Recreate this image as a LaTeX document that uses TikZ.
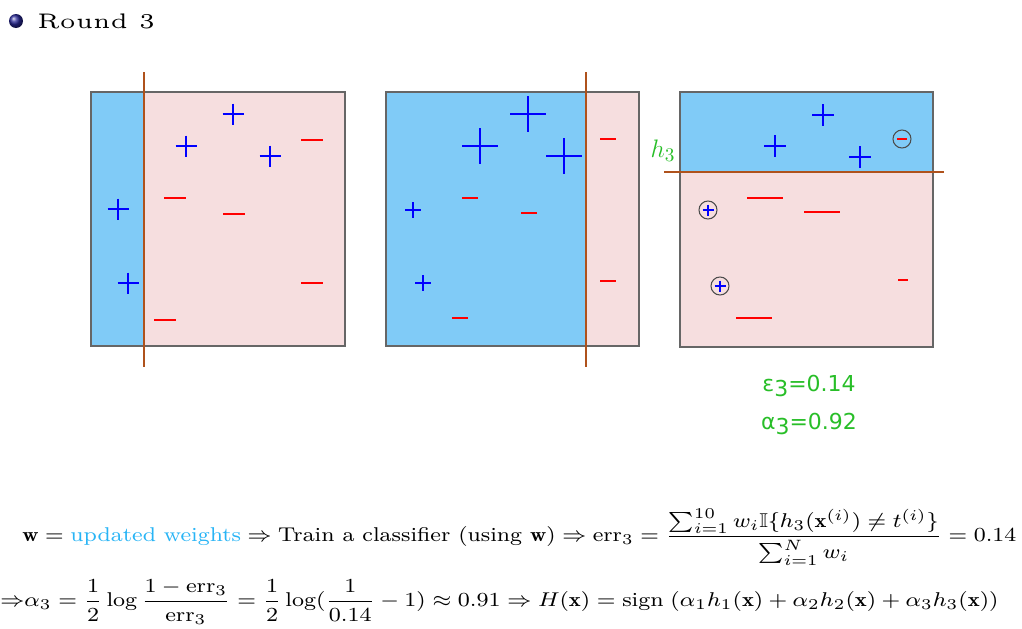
\documentclass[tikz,border=0pt]{standalone}
\usepackage{amsmath,amssymb}
\usepackage{fontspec}
\newfontfamily\labelfont{DejaVu Sans}
\definecolor{skyfill}{RGB}{128,203,247}
\definecolor{pinkfill}{RGB}{246,222,223}
\definecolor{splitline}{RGB}{175,82,28}
\definecolor{labelgreen}{RGB}{40,190,40}
\definecolor{weightblue}{RGB}{40,180,245}
\definecolor{ballblue}{RGB}{40,40,150}
\begin{document}
\begin{tikzpicture}[x=0.02cm, y=-0.02cm,
  box/.style={draw=black!60, line width=0.8pt},
  split/.style={draw=splitline, line width=1.6pt},
  ring/.style={draw=black!70, line width=0.6pt},
  pics/plusmark/.style={code={\draw[blue, line width=1.1pt] (-#1,0) -- (#1,0) (0,-#1) -- (0,#1);}},
  pics/minusmark/.style={code={\draw[red, line width=1.1pt] (-#1,0) -- (#1,0);}}]
  \useasboundingbox (0,0) rectangle (1022,629);

  % title
  \shade[ball color=ballblue] (16,21) circle (7);
  \node[anchor=base west, inner sep=0] (title) at (37,28) {\scalebox{2.65}[2.4]{\fontsize{5}{6}\selectfont Round 3}};

  % panel 1
  \fill[skyfill] (91,92) rectangle (144,346);
  \fill[pinkfill] (144,92) rectangle (345,346);
  \draw[box] (91,92) rectangle (345,346);
  \draw[split] (144,72) -- (144,367);
  \pic at (233,114) {plusmark=10.5};
  \pic at (186,146) {plusmark=10.5};
  \pic at (270,156) {plusmark=10.5};
  \pic at (118,209) {plusmark=10.5};
  \pic at (128,283) {plusmark=10.5};
  \pic at (312,140) {minusmark=11};
  \pic at (175,198) {minusmark=11};
  \pic at (234,214) {minusmark=11};
  \pic at (312,283) {minusmark=11};
  \pic at (165,320) {minusmark=11};

  % panel 2
  \fill[skyfill] (386,92) rectangle (586,346);
  \fill[pinkfill] (586,92) rectangle (639,346);
  \draw[box] (386,92) rectangle (639,346);
  \draw[split] (586,72) -- (586,367);
  \pic at (528,114) {plusmark=18};
  \pic at (480,146) {plusmark=18};
  \pic at (564,156) {plusmark=18};
  \pic at (413,210) {plusmark=8};
  \pic at (423,283) {plusmark=8};
  \pic at (608,139) {minusmark=8};
  \pic at (470,198) {minusmark=8};
  \pic at (529,213) {minusmark=8};
  \pic at (608,281) {minusmark=8};
  \pic at (460,318) {minusmark=8};

  % panel 3
  \fill[skyfill] (680,92) rectangle (933,172);
  \fill[pinkfill] (680,172) rectangle (933,347);
  \draw[box] (680,92) rectangle (933,347);
  \draw[split] (664,172) -- (944,172);
  \node[text=labelgreen, inner sep=0] (hlabel) at (663,151) {\fontsize{15}{17}\selectfont$h_3$};
  \pic at (823,115) {plusmark=11};
  \pic at (775,146) {plusmark=11};
  \pic at (860,157) {plusmark=11};
  \pic at (902,139) {minusmark=5};
  \draw[ring] (902,139) circle (9);
  \pic at (708,210) {plusmark=5.5};
  \draw[ring] (708,210) circle (9);
  \pic at (720,286) {plusmark=5.5};
  \draw[ring] (720,286) circle (9);
  \pic at (765,198) {minusmark=18};
  \pic at (822,212) {minusmark=18};
  \pic at (754,318) {minusmark=18};
  \pic at (903,280) {minusmark=5};

  \node[text=labelgreen, font=\labelfont\fontsize{12.5}{14}\selectfont] (eps) at (809,386) {ε\raisebox{-0.45ex}{3}=0.14};
  \node[text=labelgreen, font=\labelfont\fontsize{12.5}{14}\selectfont] (alpha) at (809,424) {α\raisebox{-0.45ex}{3}=0.92};

  % formulas
  \node[anchor=west, inner sep=0] (train) at (22,537) {\scalebox{1.6}[1.42]{\fontsize{8}{10}\selectfont
    $\displaystyle \mathbf{w} = \text{\color{weightblue}updated weights} \Rightarrow \text{Train a classifier (using $\mathbf{w}$)} \Rightarrow \mathrm{err}_3 = \frac{\sum_{i=1}^{10} w_i \mathbb{I}\{h_3(\mathbf{x}^{(i)}) \neq t^{(i)}\}}{\sum_{i=1}^{N} w_i} = 0.14$}};
  \node[anchor=west, inner sep=0] (vote) at (0,602) {\scalebox{1.61}[1.42]{\fontsize{8}{10}\selectfont
    $\displaystyle {\Rightarrow}\alpha_3 = \frac{1}{2}\log\frac{1-\mathrm{err}_3}{\mathrm{err}_3} = \frac{1}{2}\log(\frac{1}{0.14}-1) \approx 0.91 \Rightarrow H(\mathbf{x}) = \mathrm{sign}\;(\alpha_1 h_1(\mathbf{x}) + \alpha_2 h_2(\mathbf{x}) + \alpha_3 h_3(\mathbf{x}))$}};
\end{tikzpicture}
\end{document}
